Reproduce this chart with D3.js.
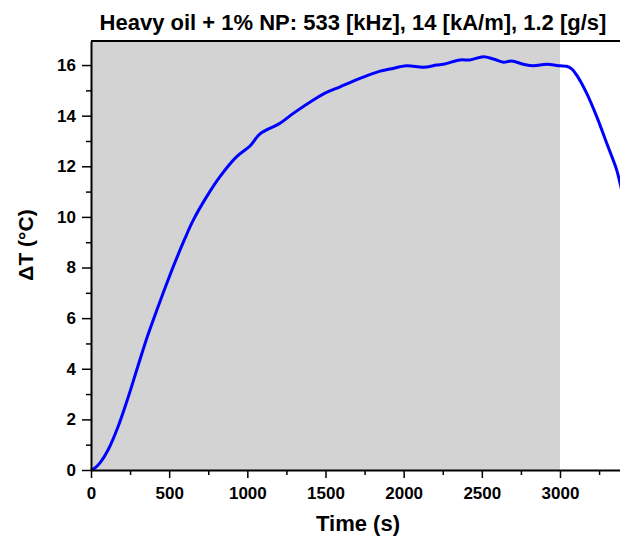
<!DOCTYPE html>
<html>
<head>
<meta charset="utf-8">
<script src="https://cdn.jsdelivr.net/npm/d3@7"></script>
<style>
  body { margin: 0; background: #fff; }
  svg { font-family: "Liberation Sans", Arial, sans-serif; }
</style>
</head>
<body>
<div id="chart"></div>
<script>
// time (s) and temperature rise (°C)
const times = [0, 23, 60, 109, 173, 237, 301, 365, 429, 493, 550, 601, 655, 740, 825, 932, 1017, 1081,
  1209, 1294, 1422, 1500, 1593, 1721, 1849, 1913, 2019, 2126, 2211, 2254, 2360, 2424, 2510, 2574,
  2638, 2691, 2766, 2830, 2915, 3000, 3043, 3075, 3107, 3171, 3235, 3299, 3363, 3384, 3420];
const deltaT = [0, 0.07, 0.3, 0.79, 1.71, 2.86, 4.12, 5.35, 6.45, 7.51, 8.4, 9.15, 9.88, 10.8, 11.59, 12.38, 12.8, 13.28,
  13.7, 14.09, 14.62, 14.9, 15.14, 15.47, 15.76, 15.84, 15.97, 15.91, 16.0, 16.03, 16.2, 16.2, 16.33, 16.24,
  16.11, 16.16, 16.03, 15.97, 16.03, 15.97, 15.95, 15.85, 15.6, 14.88, 13.96, 12.91, 11.85, 11.33, 10.4];
const heatingEnd = 3000;
const xTicks = [0, 500, 1000, 1500, 2000, 2500, 3000];
const yTicks = [0, 2, 4, 6, 8, 10, 12, 14, 16];

const width = 620, height = 537;
const marginLeft = 91, plotBottom = 470, plotTop = 41;

const svg = d3.select("#chart").append("svg")
    .attr("width", width)
    .attr("height", height);

const x = d3.scaleLinear().domain([0, 3500]).range([marginLeft, marginLeft + 3500 * 0.15633]);
const y = d3.scaleLinear().domain([0, 16.95]).range([plotBottom, plotTop]);

// shaded heating period
svg.append("rect")
    .attr("x", x(0))
    .attr("y", y(16.95))
    .attr("width", x(heatingEnd) - x(0))
    .attr("height", y(0) - y(16.95))
    .attr("fill", "#d3d3d3");

const line = d3.line()
    .x((d, i) => x(times[i]))
    .y(d => y(d))
    .curve(d3.curveCatmullRom.alpha(0.5));

svg.append("path")
    .datum(deltaT)
    .attr("fill", "none")
    .attr("stroke", "#0000ff")
    .attr("stroke-width", 3)
    .attr("d", line);

// minor ticks
svg.append("g")
    .attr("transform", `translate(0,${plotBottom})`)
    .call(d3.axisBottom(x).tickValues(d3.range(250, 3500, 500)).tickSize(5).tickFormat(""))
    .call(g => g.select(".domain").remove())
    .selectAll("line").attr("stroke-width", 1.5);
svg.append("g")
    .attr("transform", `translate(${marginLeft},0)`)
    .call(d3.axisLeft(y).tickValues(d3.range(1, 17, 2)).tickSize(5).tickFormat(""))
    .call(g => g.select(".domain").remove())
    .selectAll("line").attr("stroke-width", 1.5);

// major axes
const xAxis = svg.append("g")
    .attr("transform", `translate(0,${plotBottom})`)
    .call(d3.axisBottom(x).tickValues(xTicks).tickFormat(d3.format("d"))
        .tickSize(8).tickSizeOuter(0).tickPadding(9));
const yAxis = svg.append("g")
    .attr("transform", `translate(${marginLeft},0)`)
    .call(d3.axisLeft(y).tickValues(yTicks).tickSize(9).tickSizeOuter(0).tickPadding(6));

[xAxis, yAxis].forEach(g => {
    g.select(".domain").attr("stroke-width", 2);
    g.selectAll(".tick line").attr("stroke-width", 1.5);
    g.selectAll("text")
        .style("font-size", "17px")
        .style("font-weight", "bold")
        .style("font-family", "'Liberation Sans', Arial, sans-serif")
        .attr("fill", "#000");
});

// top frame line
svg.append("line")
    .attr("x1", marginLeft).attr("x2", width)
    .attr("y1", plotTop).attr("y2", plotTop)
    .attr("stroke", "#000")
    .attr("stroke-width", 2);

svg.append("text")
    .attr("x", 353)
    .attr("y", 30)
    .attr("text-anchor", "middle")
    .style("font-size", "22px")
    .style("font-weight", "bold")
    .text("Heavy oil + 1% NP: 533 [kHz], 14 [kA/m], 1.2 [g/s]");

svg.append("text")
    .attr("x", 358)
    .attr("y", 531)
    .attr("text-anchor", "middle")
    .style("font-size", "22px")
    .style("font-weight", "bold")
    .text("Time (s)");

svg.append("text")
    .attr("transform", "translate(33,245) rotate(-90)")
    .attr("text-anchor", "middle")
    .style("font-size", "21px")
    .style("font-weight", "bold")
    .text("\u0394T (\u00B0C)");
</script>
</body>
</html>
